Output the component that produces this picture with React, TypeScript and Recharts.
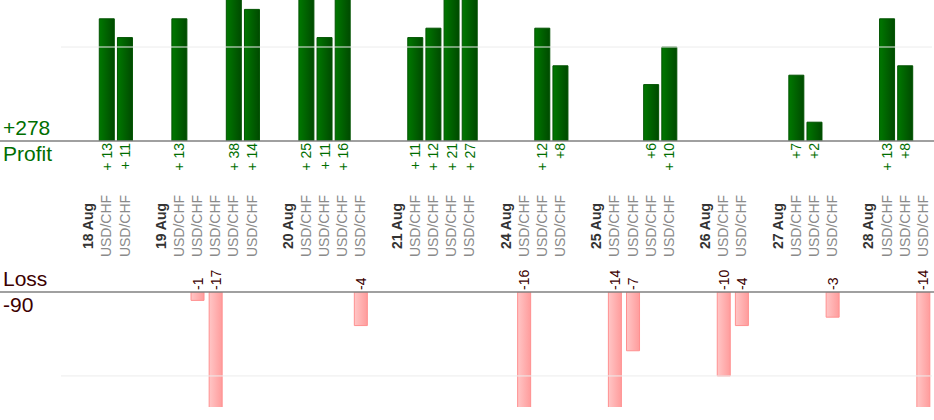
import React from "react";
import { BarChart, Bar, XAxis, YAxis, ReferenceLine, LabelList } from "recharts";

const days = ["18 Aug", "19 Aug", "20 Aug", "21 Aug", "24 Aug", "25 Aug", "26 Aug", "27 Aug", "28 Aug"];
const pair = "USD/CHF";
// result of each trade, per day, in order
const trades = [
    [13, 11],
    [13, -1, -17, 38, 14],
    [25, 11, 16, -4],
    [11, 12, 21, 27],
    [-16, 12, 8],
    [-14, -7, 6, 10],
    [-10, -4],
    [7, 2, -3],
    [13, 8, -14],
];

const FONT = "'Liberation Sans', Arial, sans-serif";
const GREEN = "#006e00";
const MAROON = "#3c0000";

type Row = { key: string; kind: "gap" | "day" | "trade"; label: string; profit: number | null; loss: number | null };

const rows: Row[] = [];
days.forEach((day, d) => {
    rows.push({ key: `g${d}`, kind: "gap", label: "", profit: null, loss: null });
    rows.push({ key: `d${d}`, kind: "day", label: day, profit: null, loss: null });
    trades[d].forEach((v, t) => {
        rows.push({ key: `t${d}-${t}`, kind: "trade", label: pair, profit: v > 0 ? v : null, loss: v < 0 ? v : null });
    });
});

const totalProfit = trades.flat().filter(v => v > 0).reduce((a, b) => a + b, 0);
const totalLoss = trades.flat().filter(v => v < 0).reduce((a, b) => a + b, 0);

const renderTick = (p: any) => {
    const row = rows[p.index ?? p.payload?.index];
    if (!row || row.kind === "gap") return <g />;
    const day = row.kind === "day";
    return (
        <text
            transform={`translate(${p.x + 5},${p.y + 77}) rotate(-90)`}
            textAnchor="middle"
            fontFamily={FONT}
            fontSize={14}
            fontWeight={day ? "bold" : "normal"}
            fill={day ? "#333" : "#8a8a8a"}
        >
            {row.label}
        </text>
    );
};

const profitLabel = (p: any) => {
    if (p.value == null) return null;
    const vb = p.viewBox || p;
    const cx = vb.x + vb.width / 2;
    const base = vb.y + vb.height;
    const v = Number(p.value);
    return (
        <text transform={`translate(${cx + 5},${base + 2}) rotate(-90)`} textAnchor="end"
              fontFamily={FONT} fontSize={14} fill={GREEN}>
            {v >= 10 ? `+ ${v}` : `+${v}`}
        </text>
    );
};

const lossLabel = (p: any) => {
    if (p.value == null) return null;
    const vb = p.viewBox || p;
    const cx = vb.x + vb.width / 2;
    const base = vb.y + vb.height;
    return (
        <text transform={`translate(${cx + 5},${base - 2}) rotate(-90)`} textAnchor="start"
              fontFamily={FONT} fontSize={14} fill={MAROON}>
            {`${p.value}`}
        </text>
    );
};

const fullLine = (p: any) => (
    <line x1={0} x2={934} y1={p.y1} y2={p.y2} stroke="#808080" strokeWidth={1.5} />
);

export default function App() {
    return (
        <div style={{ position: "absolute", left: 0, top: 0, width: 934, height: 420, background: "#fff", overflow: "hidden" }}>
            <div style={{ position: "absolute", left: 0, top: 0 }}>
                <BarChart width={934} height={260} data={rows} margin={{ top: 0, right: 2, bottom: 0, left: 61 }}>
                    <defs>
                        <linearGradient id="profitFill" x1="0" y1="0" x2="1" y2="0">
                            <stop offset="0%" stopColor="#007800" />
                            <stop offset="100%" stopColor="#004a00" />
                        </linearGradient>
                    </defs>
                    <XAxis dataKey="key" interval={0} height={119} axisLine={false} tickLine={false} tick={renderTick} />
                    <YAxis hide domain={[0, 15]} allowDataOverflow />
                    <ReferenceLine y={10} stroke="#ececec" />
                    <Bar dataKey="profit" barSize={15} fill="url(#profitFill)" stroke="#005200" isAnimationActive={false}>
                        <LabelList dataKey="profit" content={profitLabel} />
                    </Bar>
                    <ReferenceLine y={0} shape={fullLine} />
                </BarChart>
            </div>
            <div style={{ position: "absolute", left: 0, top: 0 }}>
                <BarChart width={934} height={420} data={rows} margin={{ top: 292, right: 2, bottom: 13, left: 61 }}>
                    <defs>
                        <linearGradient id="lossFill" x1="0" y1="0" x2="1" y2="0">
                            <stop offset="0%" stopColor="#ffc6c6" />
                            <stop offset="100%" stopColor="#ff9c9c" />
                        </linearGradient>
                    </defs>
                    <XAxis dataKey="key" hide />
                    <YAxis hide domain={[-13.7, 0]} allowDataOverflow />
                    <ReferenceLine y={-10} stroke="#ececec" />
                    <Bar dataKey="loss" barSize={13} fill="url(#lossFill)" stroke="#ff9090" isAnimationActive={false}>
                        <LabelList dataKey="loss" content={lossLabel} />
                    </Bar>
                    <ReferenceLine y={0} shape={fullLine} />
                </BarChart>
            </div>
            <div style={{ position: "absolute", left: 3, top: 115, fontFamily: FONT, fontSize: 21, color: GREEN, lineHeight: "26px" }}>
                <div>+{totalProfit}</div>
                <div>Profit</div>
            </div>
            <div style={{ position: "absolute", left: 3, top: 266, fontFamily: FONT, fontSize: 21, color: MAROON, lineHeight: "26px" }}>
                <div>Loss</div>
                <div>{totalLoss}</div>
            </div>
        </div>
    );
}
